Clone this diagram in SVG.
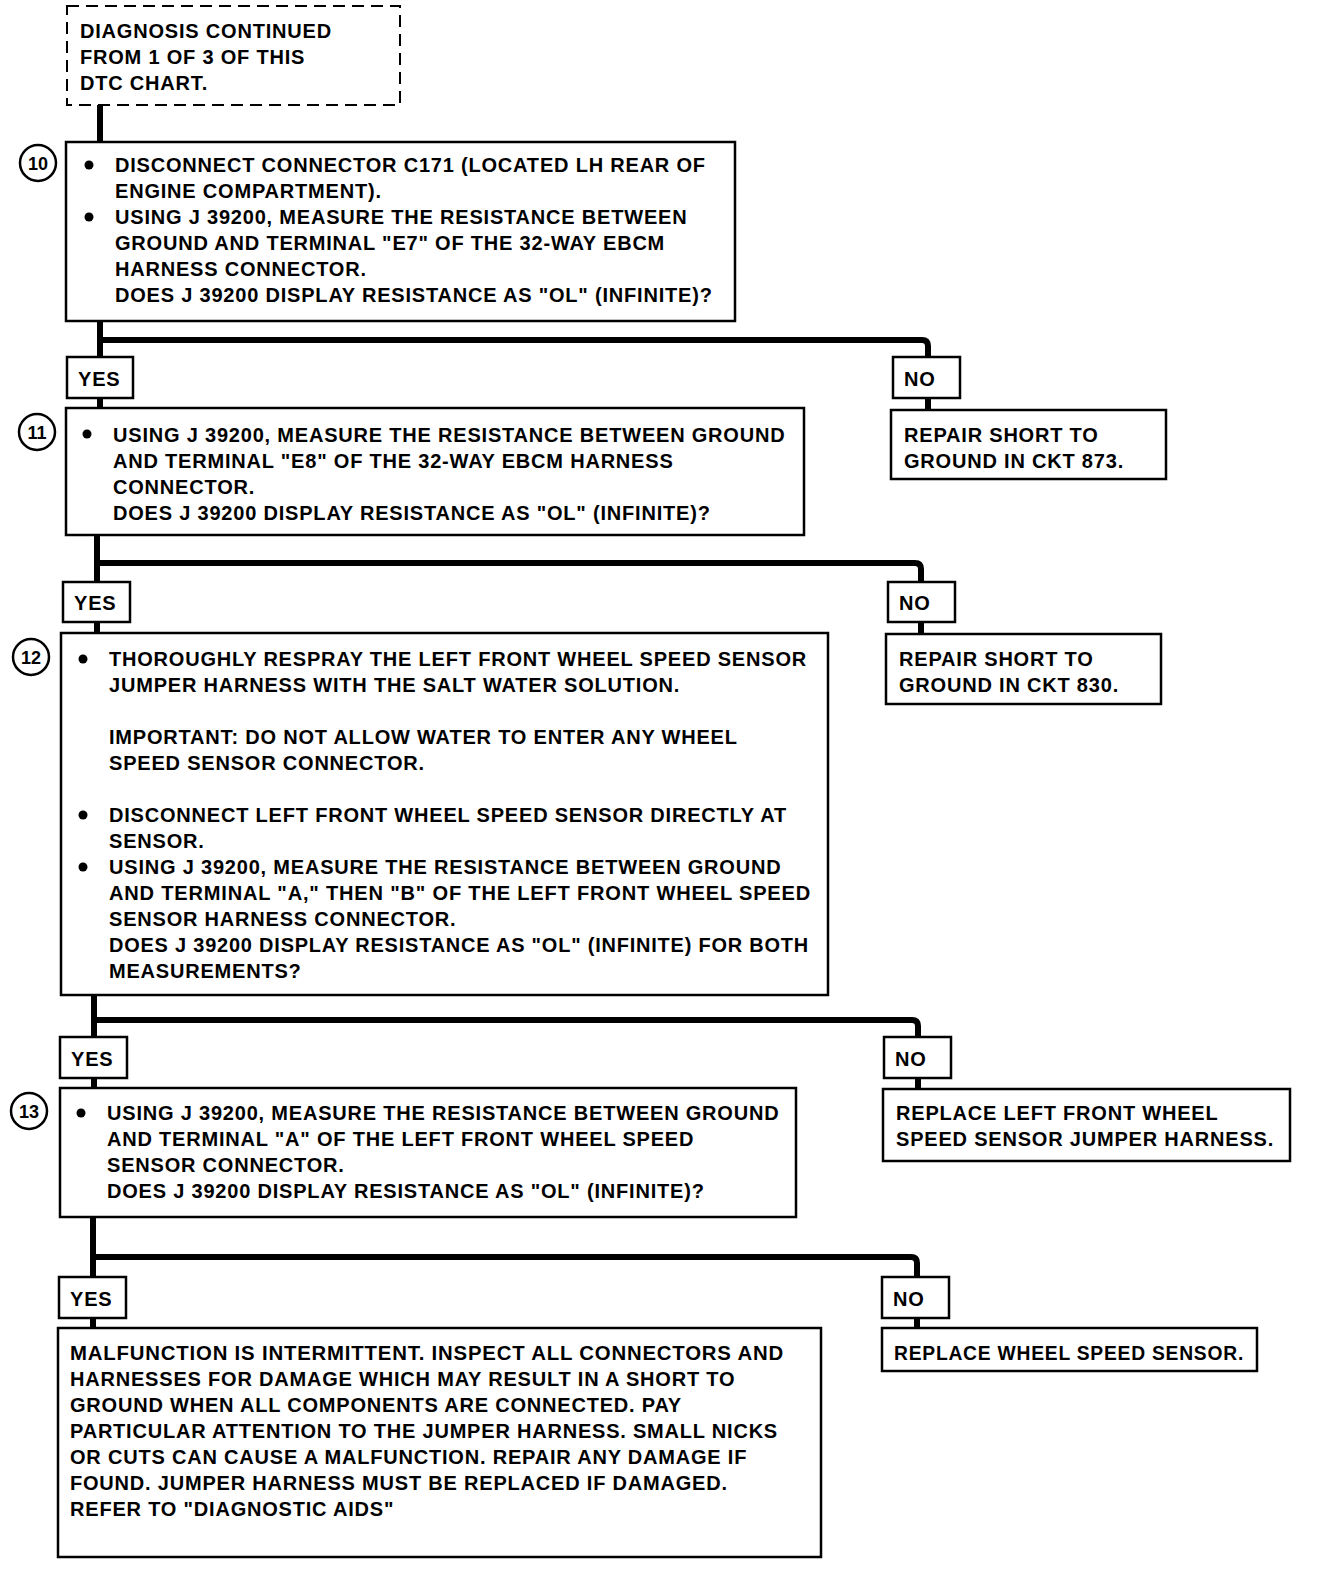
<svg xmlns="http://www.w3.org/2000/svg" width="1328" height="1580" viewBox="0 0 1328 1580">
<style>
text{font-family:"Liberation Sans",Arial,sans-serif;font-weight:bold;font-size:20px;letter-spacing:0.8px;fill:#000}
.box{fill:#fff;stroke:#000;stroke-width:2.5}
.dash{fill:#fff;stroke:#000;stroke-width:2;stroke-dasharray:12 7}
.tag{fill:#fff;stroke:#000;stroke-width:2.5}
.circ{fill:#fff;stroke:#000;stroke-width:2.5}
.num{font-size:18px;letter-spacing:0;text-anchor:middle}
.wire{fill:none;stroke:#000;stroke-width:6;stroke-linejoin:round}
</style>
<rect width="1328" height="1580" fill="#fff"/>
<g id="connectors">
<path class="wire" d="M100 105 V142"/>
<path class="wire" d="M100 321 V408 M100 340 H922 Q928 340 928 346 V410"/>
<path class="wire" d="M97 535 V633 M97 563 H915 Q921 563 921 569 V634"/>
<path class="wire" d="M94 995 V1088 M94 1020 H912 Q918 1020 918 1026 V1089"/>
<path class="wire" d="M93 1217 V1328 M93 1257 H911 Q917 1257 917 1263 V1328"/>
</g>
<g id="start">
<rect class="dash" x="67" y="6" width="333" height="99"/>
<text x="80" y="38">DIAGNOSIS CONTINUED</text>
<text x="80" y="64">FROM  1 OF 3 OF THIS</text>
<text x="80" y="90">DTC CHART.</text>
</g>
<g id="step10">
<rect class="box" x="66" y="142" width="669" height="179"/>
<circle class="circ" cx="38" cy="163" r="18"/>
<text class="num" x="38" y="169.5">10</text>
<circle cx="89" cy="165" r="4.5"/>
<circle cx="89" cy="217" r="4.5"/>
<text x="115" y="172">DISCONNECT CONNECTOR C171 (LOCATED LH REAR OF</text>
<text x="115" y="198">ENGINE COMPARTMENT).</text>
<text x="115" y="224">USING J 39200, MEASURE THE RESISTANCE BETWEEN</text>
<text x="115" y="250">GROUND AND TERMINAL "E7" OF THE 32-WAY EBCM</text>
<text x="115" y="276">HARNESS CONNECTOR.</text>
<text x="115" y="302">DOES J 39200 DISPLAY RESISTANCE AS "OL" (INFINITE)?</text>
</g>
<g id="yes10"><rect class="tag" x="67" y="357" width="66" height="41"/><text x="78" y="386">YES</text></g>
<g id="no10"><rect class="tag" x="893" y="357" width="67" height="41"/><text x="904" y="386">NO</text></g>
<g id="repair873">
<rect class="box" x="891" y="410" width="275" height="69"/>
<text x="904" y="442">REPAIR SHORT TO</text>
<text x="904" y="468">GROUND IN CKT 873.</text>
</g>
<g id="step11">
<rect class="box" x="66" y="408" width="738" height="127"/>
<circle class="circ" cx="37" cy="432" r="18"/>
<text class="num" x="37" y="438.5">11</text>
<circle cx="87" cy="434" r="4.5"/>
<text x="113" y="442">USING J 39200, MEASURE THE RESISTANCE BETWEEN GROUND</text>
<text x="113" y="468">AND TERMINAL "E8" OF THE 32-WAY EBCM HARNESS</text>
<text x="113" y="494">CONNECTOR.</text>
<text x="113" y="520">DOES J 39200 DISPLAY RESISTANCE AS "OL" (INFINITE)?</text>
</g>
<g id="yes11"><rect class="tag" x="63" y="582" width="67" height="40"/><text x="74" y="610">YES</text></g>
<g id="no11"><rect class="tag" x="888" y="582" width="67" height="40"/><text x="899" y="610">NO</text></g>
<g id="repair830">
<rect class="box" x="886" y="634" width="275" height="70"/>
<text x="899" y="666">REPAIR SHORT TO</text>
<text x="899" y="692">GROUND IN CKT 830.</text>
</g>
<g id="step12">
<rect class="box" x="61" y="633" width="767" height="362"/>
<circle class="circ" cx="31" cy="657" r="18"/>
<text class="num" x="31" y="663.5">12</text>
<circle cx="83" cy="659" r="4.5"/>
<circle cx="83" cy="815" r="4.5"/>
<circle cx="83" cy="867" r="4.5"/>
<text x="109" y="666">THOROUGHLY RESPRAY THE LEFT FRONT WHEEL SPEED SENSOR</text>
<text x="109" y="692">JUMPER HARNESS WITH THE SALT WATER SOLUTION.</text>
<text x="109" y="744">IMPORTANT:  DO NOT ALLOW WATER TO ENTER ANY WHEEL</text>
<text x="109" y="770">SPEED SENSOR CONNECTOR.</text>
<text x="109" y="822">DISCONNECT LEFT FRONT WHEEL SPEED SENSOR DIRECTLY AT</text>
<text x="109" y="848">SENSOR.</text>
<text x="109" y="874">USING J 39200, MEASURE THE RESISTANCE BETWEEN GROUND</text>
<text x="109" y="900" textLength="702" lengthAdjust="spacingAndGlyphs">AND TERMINAL "A," THEN "B" OF THE LEFT FRONT WHEEL SPEED</text>
<text x="109" y="926">SENSOR HARNESS CONNECTOR.</text>
<text x="109" y="952" textLength="700" lengthAdjust="spacingAndGlyphs">DOES J 39200 DISPLAY RESISTANCE AS "OL" (INFINITE) FOR BOTH</text>
<text x="109" y="978">MEASUREMENTS?</text>
</g>
<g id="yes12"><rect class="tag" x="60" y="1037" width="67" height="41"/><text x="71" y="1066">YES</text></g>
<g id="no12"><rect class="tag" x="884" y="1037" width="67" height="41"/><text x="895" y="1066">NO</text></g>
<g id="replaceJumper">
<rect class="box" x="883" y="1089" width="407" height="72"/>
<text x="896" y="1120">REPLACE LEFT FRONT WHEEL</text>
<text x="896" y="1146">SPEED SENSOR JUMPER HARNESS.</text>
</g>
<g id="step13">
<rect class="box" x="60" y="1088" width="736" height="129"/>
<circle class="circ" cx="29" cy="1111" r="18"/>
<text class="num" x="29" y="1117.5">13</text>
<circle cx="81" cy="1113" r="4.5"/>
<text x="107" y="1120">USING J 39200, MEASURE THE RESISTANCE BETWEEN GROUND</text>
<text x="107" y="1146">AND TERMINAL "A" OF THE LEFT FRONT WHEEL SPEED</text>
<text x="107" y="1172">SENSOR CONNECTOR.</text>
<text x="107" y="1198">DOES J 39200 DISPLAY RESISTANCE AS "OL" (INFINITE)?</text>
</g>
<g id="yes13"><rect class="tag" x="59" y="1277" width="67" height="41"/><text x="70" y="1306">YES</text></g>
<g id="no13"><rect class="tag" x="882" y="1277" width="67" height="41"/><text x="893" y="1306">NO</text></g>
<g id="replaceSensor">
<rect class="box" x="882" y="1328" width="375" height="43"/>
<text x="894" y="1360" textLength="350" lengthAdjust="spacingAndGlyphs">REPLACE WHEEL SPEED SENSOR.</text>
</g>
<g id="intermittent">
<rect class="box" x="58" y="1328" width="763" height="229"/>
<text x="70" y="1360" textLength="714" lengthAdjust="spacingAndGlyphs">MALFUNCTION IS INTERMITTENT.  INSPECT ALL CONNECTORS AND</text>
<text x="70" y="1386">HARNESSES FOR DAMAGE WHICH MAY RESULT IN A SHORT TO</text>
<text x="70" y="1412">GROUND WHEN ALL COMPONENTS ARE CONNECTED.  PAY</text>
<text x="70" y="1438" textLength="708" lengthAdjust="spacingAndGlyphs">PARTICULAR ATTENTION TO THE JUMPER HARNESS. SMALL NICKS</text>
<text x="70" y="1464">OR CUTS CAN CAUSE A MALFUNCTION.  REPAIR ANY DAMAGE IF</text>
<text x="70" y="1490">FOUND.  JUMPER HARNESS MUST BE REPLACED IF DAMAGED.</text>
<text x="70" y="1516">REFER TO "DIAGNOSTIC AIDS"</text>
</g>
</svg>
